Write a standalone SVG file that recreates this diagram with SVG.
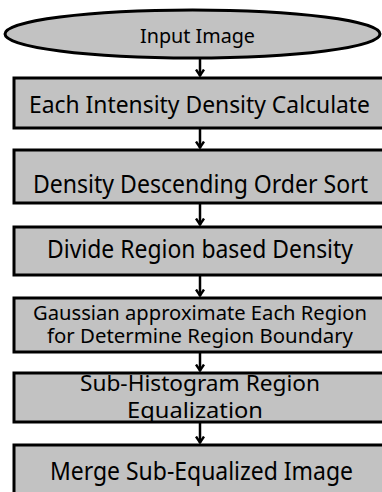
<svg xmlns="http://www.w3.org/2000/svg" width="382" height="492" viewBox="0 0 382 492">
  <style>
    .box { fill: #c2c2c2; stroke: #000; stroke-width: 3; }
    .lbl { font-family: "Noto Sans", "Open Sans", "DejaVu Sans", sans-serif; fill: #000; }
    .edge { stroke: #000; stroke-width: 2.5; fill: none; }
  </style>
  <defs>
    <marker id="arr" viewBox="0 0 8 10" refX="7.5" refY="5" markerWidth="8" markerHeight="10" markerUnits="userSpaceOnUse" orient="auto">
      <path d="M1,1 L7,5 L1,9" fill="none" stroke="#000" stroke-width="2.4"/>
    </marker>
  </defs>
  <rect width="382" height="492" fill="#fff"/>
  <g id="connectors">
    <path class="edge" d="M200,58 V76" marker-end="url(#arr)"/>
    <path class="edge" d="M200,128 V148" marker-end="url(#arr)"/>
    <path class="edge" d="M200,203 V225" marker-end="url(#arr)"/>
    <path class="edge" d="M200,275 V296" marker-end="url(#arr)"/>
    <path class="edge" d="M200,352 V371" marker-end="url(#arr)"/>
    <path class="edge" d="M200,422 V443" marker-end="url(#arr)"/>
  </g>
  <g id="n0">
    <ellipse class="box" cx="192.5" cy="34" rx="187.5" ry="24"/>
    <text class="lbl" x="140" y="43" font-size="20" textLength="115" lengthAdjust="spacingAndGlyphs">Input Image</text>
  </g>
  <g id="n1">
    <rect class="box" x="14" y="78" width="372" height="50"/>
    <text class="lbl" x="29" y="113" font-size="24" textLength="341" lengthAdjust="spacingAndGlyphs">Each Intensity Density Calculate</text>
  </g>
  <g id="n2">
    <rect class="box" x="14" y="150" width="372" height="53"/>
    <text class="lbl" x="33" y="193" font-size="25" textLength="335" lengthAdjust="spacingAndGlyphs">Density Descending Order Sort</text>
  </g>
  <g id="n3">
    <rect class="box" x="14" y="227" width="372" height="48"/>
    <text class="lbl" x="47" y="258" font-size="25" textLength="306" lengthAdjust="spacingAndGlyphs">Divide Region based Density</text>
  </g>
  <g id="n4">
    <rect class="box" x="14" y="298" width="372" height="54"/>
    <text class="lbl" x="33" y="320" font-size="19" textLength="334" lengthAdjust="spacingAndGlyphs">Gaussian approximate Each Region</text>
    <text class="lbl" x="47" y="343" font-size="19" textLength="306" lengthAdjust="spacingAndGlyphs">for Determine Region Boundary</text>
  </g>
  <g id="n5">
    <rect class="box" x="14" y="373" width="372" height="49"/>
    <text class="lbl" x="80" y="391" font-size="22" textLength="240" lengthAdjust="spacingAndGlyphs">Sub-Histogram Region</text>
    <text class="lbl" x="127" y="418" font-size="22" textLength="136" lengthAdjust="spacingAndGlyphs">Equalization</text>
  </g>
  <g id="n6">
    <rect class="box" x="14" y="445" width="372" height="60"/>
    <text class="lbl" x="50" y="480" font-size="25" textLength="303" lengthAdjust="spacingAndGlyphs">Merge Sub-Equalized Image</text>
  </g>
</svg>
